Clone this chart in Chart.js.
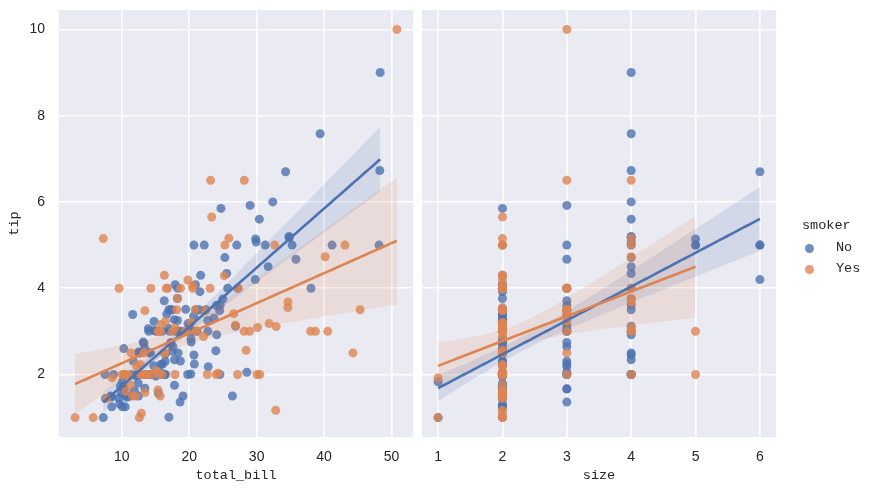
<!DOCTYPE html>
<html>
<head>
<meta charset="utf-8">
<script src="https://cdn.jsdelivr.net/npm/chart.js@4"></script>
<style>
  body { margin: 0; background: #fff; width: 873px; height: 493px; position: relative; overflow: hidden; }
  #left { position: absolute; left: 0; top: 0; }
  #right { position: absolute; left: 422px; top: 0; }
  .lg { position: absolute; font: 13.5px "Liberation Mono", monospace; color: #262626; line-height: 16px; white-space: nowrap; }
  .dot { position: absolute; width: 9px; height: 9px; border-radius: 50%; }
</style>
</head>
<body>
<canvas id="left" width="413" height="493"></canvas>
<canvas id="right" width="451" height="493"></canvas>
<div class="lg" style="left:802px;top:218px">smoker</div>
<div class="dot" style="left:805px;top:244px;background:rgba(76,114,176,0.8)"></div>
<div class="lg" style="left:836px;top:240px">No</div>
<div class="dot" style="left:805px;top:265px;background:rgba(221,132,82,0.8)"></div>
<div class="lg" style="left:836px;top:261px">Yes</div>
<script>
// tips: total_bill, tip, smoker, size (one entry per table)
const totalBill = [16.99,10.34,21.01,23.68,24.59,25.29,8.77,26.88,15.04,14.78,10.27,35.26,15.42,18.43,14.83,21.58,10.33,16.29,16.97,20.65,
  17.92,20.29,15.77,39.42,19.82,17.81,13.37,12.69,21.70,19.65,9.55,18.35,15.06,20.69,17.78,24.06,16.31,16.93,18.69,31.27,
  16.04,17.46,13.94,9.68,30.40,18.29,22.23,32.40,28.55,18.04,12.54,10.29,34.81,9.94,25.56,19.49,38.01,26.41,11.24,48.27,
  20.29,13.81,11.02,18.29,17.59,20.08,16.45,3.07,20.23,15.01,12.02,17.07,26.86,25.28,14.73,10.51,17.92,27.20,22.76,17.29,
  19.44,16.66,10.07,32.68,15.98,34.83,13.03,18.28,24.71,21.16,28.97,22.49,5.75,16.32,22.75,40.17,27.28,12.03,21.01,12.46,
  11.35,15.38,44.30,22.42,20.92,15.36,20.49,25.21,18.24,14.31,14.00,7.25,38.07,23.95,25.71,17.31,29.93,10.65,12.43,24.08,
  11.69,13.42,14.26,15.95,12.48,29.80,8.52,14.52,11.38,22.82,19.08,20.27,11.17,12.26,18.26,8.51,10.33,14.15,16.00,13.16,
  17.47,34.30,41.19,27.05,16.43,8.35,18.64,11.87,9.78,7.51,14.07,13.13,17.26,24.55,19.77,29.85,48.17,25.00,13.39,16.49,
  21.50,12.66,16.21,13.81,17.51,24.52,20.76,31.71,10.59,10.63,50.81,15.81,7.25,31.85,16.82,32.90,17.89,14.48,9.60,34.63,
  34.65,23.33,45.35,23.17,40.55,20.69,20.90,30.46,18.15,23.10,15.69,19.81,28.44,15.48,16.58,7.56,10.34,43.11,13.00,13.51,
  18.71,12.74,13.00,16.40,20.53,16.47,26.59,38.73,24.27,12.76,30.06,25.89,48.33,13.27,28.17,12.90,28.15,11.59,7.74,30.14,
  12.16,13.42,8.58,15.98,13.42,16.27,10.09,20.45,13.28,22.12,24.01,15.69,11.61,10.77,15.53,10.07,12.60,32.83,35.83,29.03,
  27.18,22.67,17.82,18.78];
const tip = [1.01,1.66,3.50,3.31,3.61,4.71,2.00,3.12,1.96,3.23,1.71,5.00,1.57,3.00,3.02,3.92,1.67,3.71,3.50,3.35,
  4.08,2.75,2.23,7.58,3.18,2.34,2.00,2.00,4.30,3.00,1.45,2.50,3.00,2.45,3.27,3.60,2.00,3.07,2.31,5.00,
  2.24,2.54,3.06,1.32,5.60,3.00,5.00,6.00,2.05,3.00,2.50,2.60,5.20,1.56,4.34,3.51,3.00,1.50,1.76,6.73,
  3.21,2.00,1.98,3.76,2.64,3.15,2.47,1.00,2.01,2.09,1.97,3.00,3.14,5.00,2.20,1.25,3.08,4.00,3.00,2.71,
  3.00,3.40,1.83,5.00,2.03,5.17,2.00,4.00,5.85,3.00,3.00,3.50,1.00,4.30,3.25,4.73,4.00,1.50,3.00,1.50,
  2.50,3.00,2.50,3.48,4.08,1.64,4.06,4.29,3.76,4.00,3.00,1.00,4.00,2.55,4.00,3.50,5.07,1.50,1.80,2.92,
  2.31,1.68,2.50,2.00,2.52,4.20,1.48,2.00,2.00,2.18,1.50,2.83,1.50,2.00,3.25,1.25,2.00,2.00,2.00,2.75,
  3.50,6.70,5.00,5.00,2.30,1.50,1.36,1.63,1.73,2.00,2.50,2.00,2.74,2.00,2.00,5.14,5.00,3.75,2.61,2.00,
  3.50,2.50,2.00,2.00,3.00,3.48,2.24,4.50,1.61,2.00,10.00,3.16,5.15,3.18,4.00,3.11,2.00,2.00,4.00,3.55,
  3.68,5.65,3.50,6.50,3.00,5.00,3.50,2.00,3.50,4.00,1.50,4.19,2.56,2.02,4.00,1.44,2.00,5.00,2.00,2.00,
  4.00,2.01,2.00,2.50,4.00,3.23,3.41,3.00,2.03,2.23,2.00,5.16,9.00,2.50,6.50,1.10,3.00,1.50,1.44,3.09,
  2.20,3.48,1.92,3.00,1.58,2.50,2.00,3.00,2.72,2.88,2.00,3.00,3.39,1.47,3.00,1.25,1.00,1.17,4.67,5.92,
  2.00,2.00,1.75,3.00];
const smoker = ['No','No','No','No','No','No','No','No','No','No','No','No','No','No','No','No','No','No','No','No',
  'No','No','No','No','No','No','No','No','No','No','No','No','No','No','No','No','No','No','No','No',
  'No','No','No','No','No','No','No','No','No','No','No','No','No','No','No','No','Yes','No','Yes','No',
  'Yes','Yes','Yes','Yes','No','No','No','Yes','No','Yes','No','No','Yes','Yes','No','No','Yes','No','No','No',
  'Yes','No','No','Yes','No','No','No','No','No','No','Yes','No','Yes','Yes','No','Yes','Yes','Yes','Yes','No',
  'Yes','Yes','Yes','Yes','No','Yes','Yes','Yes','No','Yes','No','No','No','No','No','No','No','No','No','No',
  'No','No','No','No','No','No','No','No','No','No','No','No','No','No','No','No','No','No','Yes','No',
  'No','No','No','No','No','No','No','No','No','No','No','No','No','No','No','No','No','No','No','No',
  'No','No','No','No','Yes','No','No','No','Yes','Yes','Yes','Yes','Yes','Yes','Yes','Yes','Yes','Yes','Yes','Yes',
  'Yes','Yes','Yes','Yes','Yes','No','Yes','Yes','Yes','Yes','Yes','Yes','Yes','Yes','Yes','No','Yes','Yes','Yes','Yes',
  'Yes','Yes','Yes','Yes','Yes','Yes','Yes','Yes','Yes','Yes','Yes','Yes','No','Yes','Yes','Yes','Yes','Yes','Yes','Yes',
  'Yes','Yes','Yes','No','Yes','Yes','Yes','No','No','Yes','Yes','Yes','No','No','Yes','No','Yes','Yes','No','No',
  'Yes','Yes','No','No'];
const partySize = [2,3,3,2,4,4,2,4,2,2,2,4,2,4,2,2,3,3,3,3,
  2,2,2,4,2,4,2,2,2,2,2,4,2,4,2,3,3,3,3,3,
  3,2,2,2,4,2,2,4,3,2,2,2,4,2,4,2,4,2,2,4,
  2,2,2,4,3,3,2,1,2,2,2,3,2,2,2,2,2,4,2,2,
  2,2,1,2,2,4,2,2,2,2,2,2,2,2,2,4,2,2,2,2,
  2,2,3,2,2,2,2,2,2,2,2,1,3,2,3,2,4,2,2,4,
  2,2,2,2,2,6,2,2,2,3,2,2,2,2,2,2,2,2,2,2,
  2,6,5,6,2,2,3,2,2,2,2,2,3,4,4,5,6,4,2,4,
  4,2,3,2,2,3,2,4,2,2,3,2,2,2,2,2,2,2,2,2,
  4,2,3,4,2,5,3,5,3,3,2,2,2,2,2,2,2,4,2,2,
  3,2,2,2,4,3,3,4,2,2,3,4,4,2,3,2,5,2,2,4,
  2,2,1,3,2,2,2,4,2,2,4,3,2,2,2,2,2,2,3,3,
  2,2,2,2];

const levels = ['No', 'Yes'];
const colors = { No: [76, 114, 176], Yes: [221, 132, 82] };
const billTicks = [10, 20, 30, 40, 50];
const sizeTicks = [1, 2, 3, 4, 5, 6];
const tipTicks = [2, 4, 6, 8, 10];

const rgba = (c, a) => `rgba(${c[0]},${c[1]},${c[2]},${a})`;
const ink = '#262626';
const tickFont = { family: '"Liberation Sans", Arial, sans-serif', size: 14 };
const titleFont = { family: '"Liberation Mono", monospace', size: 13.5 };

// least squares fit with a robust (HC3) 95% band, over the group's x range
function regression(xs, ys) {
  const n = xs.length;
  let sx = 0, sxx = 0, sy = 0, sxy = 0;
  for (let i = 0; i < n; i++) { sx += xs[i]; sxx += xs[i] * xs[i]; sy += ys[i]; sxy += xs[i] * ys[i]; }
  const det = n * sxx - sx * sx;
  const inv = [[sxx / det, -sx / det], [-sx / det, n / det]];
  const b = (n * sxy - sx * sy) / det, a = (sy - b * sx) / n;
  // meat of the sandwich
  let m00 = 0, m01 = 0, m11 = 0;
  for (let i = 0; i < n; i++) {
    const x = xs[i], e = ys[i] - a - b * x;
    const h = inv[0][0] + 2 * inv[0][1] * x + inv[1][1] * x * x;
    const w = e * e / ((1 - h) * (1 - h));
    m00 += w; m01 += w * x; m11 += w * x * x;
  }
  const M = [[m00, m01], [m01, m11]];
  const mul = (A, B) => [[A[0][0] * B[0][0] + A[0][1] * B[1][0], A[0][0] * B[0][1] + A[0][1] * B[1][1]],
                         [A[1][0] * B[0][0] + A[1][1] * B[1][0], A[1][0] * B[0][1] + A[1][1] * B[1][1]]];
  const cov = mul(mul(inv, M), inv);
  const lo = Math.min(...xs), hi = Math.max(...xs);
  const line = [], upper = [], lower = [];
  for (let k = 0; k < 100; k++) {
    const x = lo + (hi - lo) * k / 99;
    const y = a + b * x;
    const v = cov[0][0] + 2 * cov[0][1] * x + cov[1][1] * x * x;
    const hw = 1.96 * Math.sqrt(v);
    line.push({ x, y }); upper.push({ x, y: y + hw }); lower.push({ x, y: y - hw });
  }
  return { line, upper, lower };
}

// drawing order as in matplotlib: points and bands first, the two fit lines on top
function buildDatasets(xValues) {
  const sets = [];
  levels.forEach((lv, li) => {
    const xs = [], ys = [];
    xValues.forEach((v, i) => { if (smoker[i] === lv) { xs.push(v); ys.push(tip[i]); } });
    const fit = regression(xs, ys);
    const c = colors[lv];
    const base = 6 - li * 2; // lower order is drawn on top
    sets.push({ type: 'scatter', label: lv, data: xs.map((x, i) => ({ x, y: ys[i] })),
      backgroundColor: rgba(c, 0.8), borderWidth: 0, pointRadius: 4.5, order: base });
    sets.push({ type: 'line', data: fit.upper, borderWidth: 0, pointRadius: 0, fill: false, order: base - 1 });
    sets.push({ type: 'line', data: fit.lower, borderWidth: 0, pointRadius: 0,
      fill: '-1', backgroundColor: rgba(c, 0.15), order: base - 1 });
    sets.push({ type: 'line', data: fit.line, borderColor: rgba(c, 1), borderWidth: 2.6,
      pointRadius: 0, fill: false, order: 2 - li });
  });
  return sets;
}

const panelBg = {
  id: 'panelBg',
  beforeDraw(chart) {
    const { ctx, chartArea: a } = chart;
    ctx.save();
    ctx.fillStyle = '#EAEAF2';
    ctx.fillRect(a.left, a.top, a.right - a.left, a.bottom - a.top);
    ctx.restore();
  }
};

// fixed axis boxes so the plot area lands where the reference has it
function noPad(s) { s.paddingTop = 0; s.paddingBottom = 0; s.paddingLeft = 0; s.paddingRight = 0; }

function makeChart(id, xValues, xMin, xMax, xTicks, xTitle, showY, padRight) {
  return new Chart(document.getElementById(id), {
    type: 'scatter',
    data: { datasets: buildDatasets(xValues) },
    options: {
      responsive: false,
      animation: false,
      events: [],
      layout: { autoPadding: false, padding: { top: 10, right: padRight, bottom: 0, left: 0 } },
      plugins: { legend: { display: false }, tooltip: { enabled: false } },
      scales: {
        x: {
          type: 'linear', min: xMin, max: xMax,
          afterBuildTicks: s => { s.ticks = xTicks.map(v => ({ value: v })); },
          afterFit: s => { s.height = 56; noPad(s); },
          grid: { color: '#fff', lineWidth: 1.6, drawTicks: false },
          border: { display: false },
          ticks: { font: tickFont, color: ink, padding: 12 },
          title: { display: true, text: xTitle, font: titleFont, color: ink, padding: { top: 0, bottom: 9 } }
        },
        y: {
          type: 'linear', min: 0.55, max: 10.45,
          afterBuildTicks: s => { s.ticks = tipTicks.map(v => ({ value: v })); },
          afterFit: s => { s.width = showY ? 59 : 0; noPad(s); },
          grid: { color: '#fff', lineWidth: 1.6, drawTicks: false },
          border: { display: false },
          ticks: { display: showY, font: tickFont, color: ink, padding: 14 },
          title: { display: showY, text: 'tip', font: titleFont, color: ink, padding: { top: 6, bottom: 0 } }
        }
      }
    },
    plugins: [panelBg]
  });
}

makeChart('left', totalBill, 0.68, 53.2, billTicks, 'total_bill', true, 0);
makeChart('right', partySize, 0.75, 6.25, sizeTicks, 'size', false, 97);
</script>
</body>
</html>
